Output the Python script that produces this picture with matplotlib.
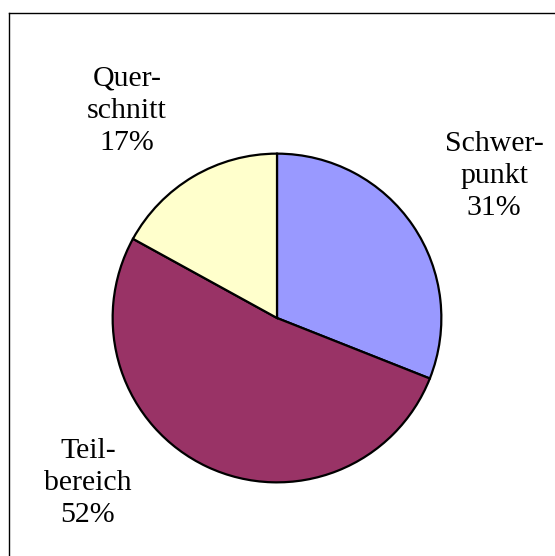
import matplotlib
matplotlib.use("Agg")
import matplotlib.pyplot as plt
from matplotlib.lines import Line2D

categories = ["Schwer-\npunkt", "Teil-\nbereich", "Quer-\nschnitt"]
values = [31, 52, 17]
colors = ["#9999FF", "#993366", "#FFFFCC"]
label_pos = [(494, 176), (88, 483), (127, 111)]  # pixel centers (x, y from top)

W, H = 555, 556
fig = plt.figure(figsize=(W / 100, H / 100), dpi=100)
fig.patch.set_facecolor("white")

cx, cy, r = 277, 318, 166
ax = fig.add_axes([(cx - r) / W, (H - cy - r) / H, 2 * r / W, 2 * r / H])
ax.pie(values, colors=colors, startangle=90, counterclock=False,
       wedgeprops=dict(edgecolor="black", linewidth=1.6), radius=1)
ax.set_xlim(-1.01, 1.01)
ax.set_ylim(-1.01, 1.01)
ax.set_aspect("equal")
ax.axis("off")

# frame
fig.add_artist(Line2D([8.5 / W, 1.0], [1 - 12.5 / H, 1 - 12.5 / H], color="black", lw=1.0,
                      transform=fig.transFigure))
fig.add_artist(Line2D([8.5 / W, 8.5 / W], [1 - 12.5 / H, 0], color="black", lw=1.0,
                      transform=fig.transFigure))

for cat, v, (px, py) in zip(categories, values, label_pos):
    fig.text(px / W, 1 - py / H, f"{cat}\n{v}%", ha="center", va="center",
             fontsize=21.5, family="Liberation Serif", linespacing=1.3)

fig.savefig("out.png", dpi=100)
